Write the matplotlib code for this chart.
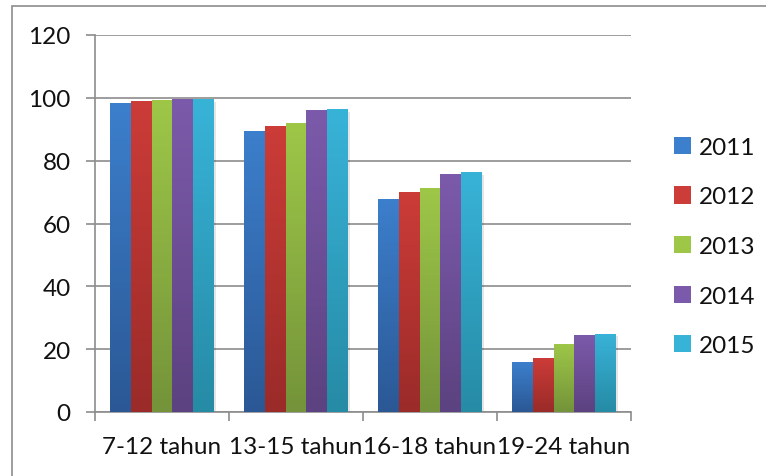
import numpy as np
import matplotlib.pyplot as plt
from matplotlib.patches import Rectangle
from matplotlib.colors import LinearSegmentedColormap

categories = ["7-12 tahun", "13-15 tahun", "16-18 tahun", "19-24 tahun"]
years = ["2011", "2012", "2013", "2014", "2015"]
values = {
    "2011": [98.3, 89.5, 67.7, 15.9],
    "2012": [98.9, 91.0, 69.9, 17.2],
    "2013": [99.3, 91.9, 71.2, 21.7],
    "2014": [99.6, 96.1, 75.6, 24.6],
    "2015": [99.5, 96.4, 76.3, 24.9],
}
y_ticks = [0, 20, 40, 60, 80, 100, 120]

# (top colour, bottom colour) for each series gradient
colors = {
    "2011": ("#3c7fcc", "#2b5895"),
    "2012": ("#cc3c38", "#9a2b29"),
    "2013": ("#9ec748", "#74933a"),
    "2014": ("#7c5aab", "#5c4280"),
    "2015": ("#38b3d8", "#268ba5"),
}

plt.rcParams["font.family"] = ["Lato", "DejaVu Sans"]
FS = 17.5

fig = plt.figure(figsize=(7.66, 4.77), dpi=100)
ax = fig.add_axes([95 / 766, 1 - 413 / 477, (631 - 95) / 766, (413 - 36) / 477])

# outer chart frame (only top and left edges fall inside the image)
fig.patches.append(Rectangle((12 / 766, -0.1), 1.2, 1 - 7 / 477 + 0.1,
                             transform=fig.transFigure, fill=False,
                             edgecolor="#8c8c8c", linewidth=1.2, zorder=0))

n = len(years)
group_w = 0.78
bw = group_w / n
x = np.arange(len(categories))

for i, yr in enumerate(years):
    offs = x - group_w / 2 + bw * (i + 0.5)
    top, bottom = colors[yr]
    cmap = LinearSegmentedColormap.from_list(yr, [bottom, top])
    bars = ax.bar(offs, values[yr], width=bw, color=top, label=yr,
                  zorder=3, linewidth=0)
    for b in bars:
        bx, bh = b.get_x(), b.get_height()
        # soft drop shadow
        ax.add_patch(Rectangle((bx + 0.012, -0.8), b.get_width(), bh,
                               facecolor="#000000", alpha=0.10,
                               linewidth=0, zorder=2))
        grad = np.linspace(0, 1, 128).reshape(-1, 1)
        im = ax.imshow(grad, extent=(bx, bx + b.get_width(), 0, bh),
                       origin="lower", cmap=cmap, aspect="auto", zorder=3.5)
        im.set_clip_path(b)

ax.set_xlim(-0.5, len(categories) - 0.5)
ax.set_ylim(0, 120)
ax.set_yticks(y_ticks)
ax.set_yticklabels([str(v) for v in y_ticks])

ax.set_xticks(np.arange(len(categories) + 1) - 0.5)
ax.set_xticklabels([])
ax.set_xticks(x, minor=True)
ax.set_xticklabels(categories, minor=True)
ax.tick_params(axis="x", which="minor", length=0, pad=17, labelsize=FS,
               labelcolor="#111111")
ax.tick_params(axis="x", which="major", length=6.5, width=1.2, color="#8c8c8c")
ax.tick_params(axis="y", length=6.5, width=1.2, color="#8c8c8c", pad=11,
               labelsize=FS, labelcolor="#111111")

ax.grid(axis="y", color="#8c8c8c", linewidth=1.2, zorder=0)
ax.set_axisbelow(True)
for s in ["top", "right"]:
    ax.spines[s].set_visible(False)
for s in ["left", "bottom"]:
    ax.spines[s].set_color("#8c8c8c")
    ax.spines[s].set_linewidth(1.2)

handles = [Rectangle((0, 0), 1, 1, facecolor=colors[yr][0]) for yr in years]
leg = fig.legend(handles, years, loc="upper left",
                 bbox_to_anchor=(664 / 766, 1 - 128 / 477), frameon=False,
                 fontsize=FS, handlelength=0.72, handleheight=0.72,
                 handletextpad=0.3, labelspacing=1.17, borderaxespad=0)
for t in leg.get_texts():
    t.set_color("#111111")

fig.savefig("out.png", dpi=100)
